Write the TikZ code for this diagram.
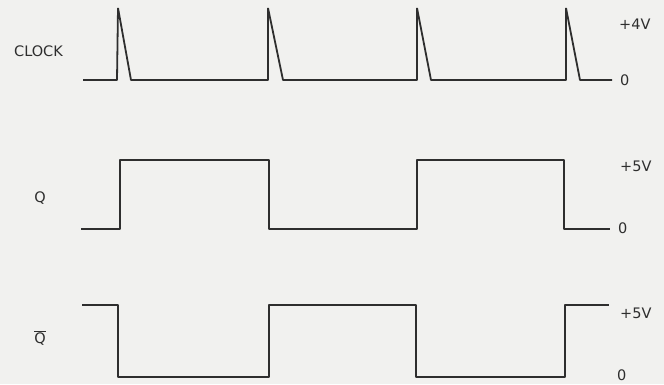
\documentclass[tikz,border=0pt]{standalone}
\usepackage{fontspec}
\setmainfont{DejaVu Sans}
\definecolor{PaperGrey}{HTML}{F1F1EF}
\definecolor{InkGrey}{HTML}{2E2E2E}
\usetikzlibrary{positioning}

\begin{document}
\begin{tikzpicture}[x=1pt, y=-1pt, every node/.style={font=\fontsize{14.5}{16}\selectfont, text=InkGrey},
  wave/.style={draw=InkGrey, line width=1.8pt, line join=bevel},
  lvl/.style={anchor=west, inner sep=0pt},
  sig/.style={inner sep=0pt}]
  \fill[PaperGrey] (0,0) rectangle (664,384);
  \useasboundingbox (0,0) rectangle (664,384);
  % clock pulses
  \node[sig] (clk) at (38.5,51) {CLOCK};
  \draw[wave] (83,80) -- (117,80) -- (118,8) -- (131,80) -- (268,80) -- (268,8) -- (283,80)
    -- (417,80) -- (417,8) -- (431,80) -- (566,80) -- (566,8) -- (580,80) -- (612,80);
  \node[lvl] (clkhi) at (619,24) {+4V};
  \node[lvl] (clklo) at (620,80) {0};
  % Q output
  \node[sig] (q) at (40,198) {Q};
  \draw[wave] (81,229) -- (120,229) -- (120,160) -- (269,160) -- (269,229) -- (417,229)
    -- (417,160) -- (564,160) -- (564,229) -- (610,229);
  \node[lvl] (qhi) at (620,166) {+5V};
  \node[lvl] (qlo) at (618,228) {0};
  % inverted output
  \node[sig] (qbar) at (40,338) {$\overline{\mbox{Q}}$};
  \draw[wave] (82,305) -- (118,305) -- (118,377) -- (269,377) -- (269,305) -- (416,305)
    -- (416,377) -- (565,377) -- (565,305) -- (609,305);
  \node[lvl] (qbarhi) at (620,313) {+5V};
  \node[lvl] (qbarlo) at (617,375) {0};
\end{tikzpicture}
\end{document}
